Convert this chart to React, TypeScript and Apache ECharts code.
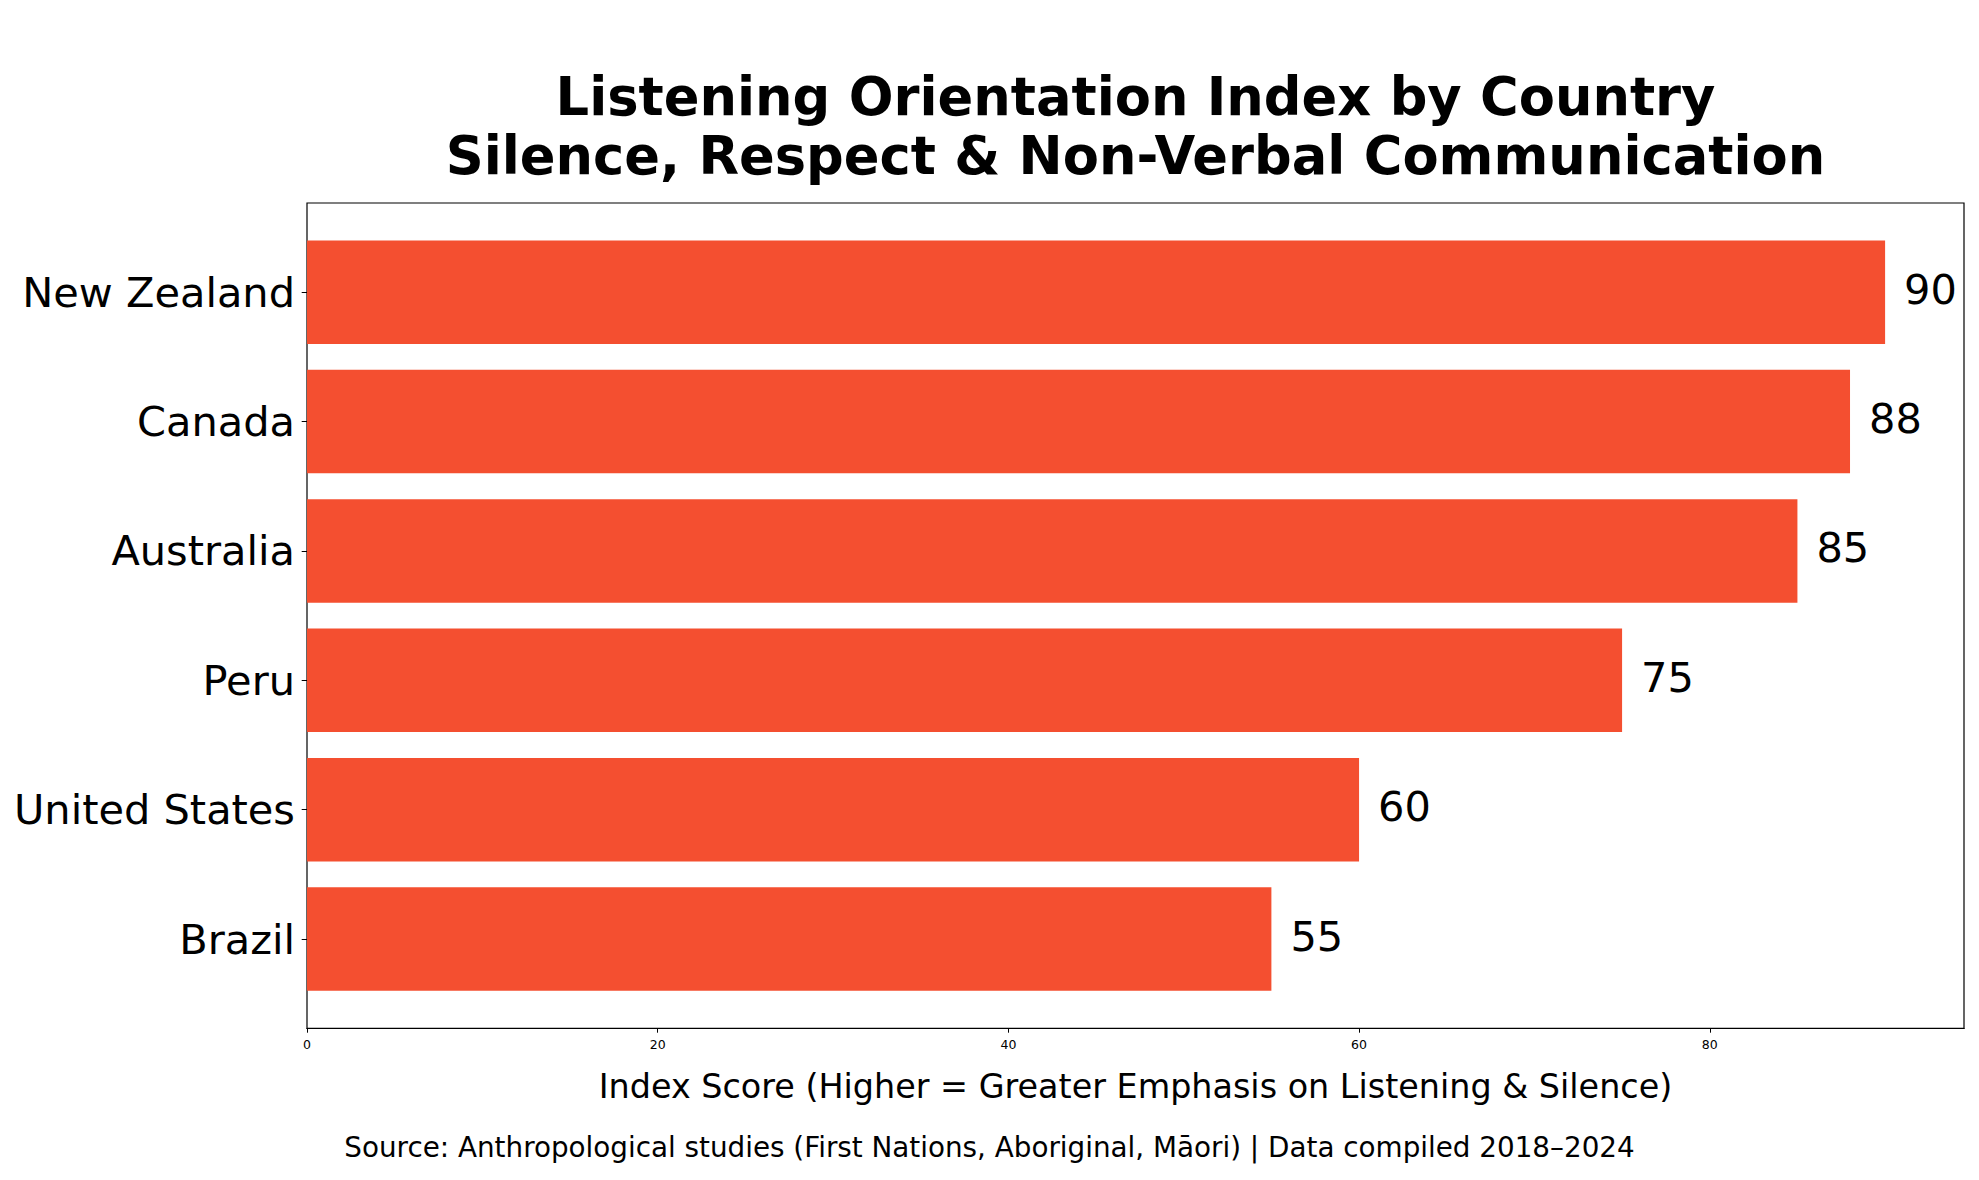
import React, { useEffect, useRef } from "react";
import * as echarts from "echarts";

const categories = ["New Zealand", "Canada", "Australia", "Peru", "United States", "Brazil"];
const values = [90, 88, 85, 75, 60, 55];
const xTickValues = [0, 20, 40, 60, 80];
const xMin = 0;
const xMax = 94.5;

const titleLine1 = "Listening Orientation Index by Country";
const titleLine2 = "Silence, Respect & Non-Verbal Communication";
const xAxisTitle = "Index Score (Higher = Greater Emphasis on Listening & Silence)";
const sourceText = "Source: Anthropological studies (First Nations, Aboriginal, Māori) | Data compiled 2018–2024";

const FONT = '"DejaVu Sans", "Noto Sans", sans-serif';
const BAR_COLOR = "#F44F30";

export default function App() {
  const ref = useRef<HTMLDivElement>(null);

  useEffect(() => {
    if (!ref.current) return;
    const chart = echarts.init(ref.current, null, { renderer: "svg" });
    const W = 1979;
    const H = 1180;
    const axLeft = 307;
    const axRight = 1964;
    const axTop = 203;
    const axBottom = 1028.3;
    const pxPerCat = (axBottom - axTop) / 6.38;
    const pad = 0.19 * pxPerCat;
    const cx = (axLeft + axRight) / 2;

    chart.setOption({
      animation: false,
      backgroundColor: "#ffffff",
      textStyle: { fontFamily: FONT },
      grid: [
        {
          left: axLeft,
          right: W - axRight,
          top: axTop + pad,
          bottom: H - (axBottom - pad),
          show: false,
          containLabel: false,
          outerBoundsMode: "none",
        },
        {
          left: axLeft,
          right: W - axRight,
          top: axTop,
          bottom: H - axBottom,
          show: true,
          borderColor: "#000",
          borderWidth: 1.2,
          backgroundColor: "transparent",
          containLabel: false,
          outerBoundsMode: "none",
        },
      ],
      xAxis: [
        { gridIndex: 0, type: "value", min: xMin, max: xMax, show: false },
        {
          gridIndex: 1,
          type: "value",
          min: xMin,
          max: xMax,
          axisLine: { show: true, lineStyle: { color: "#000", width: 1.2 } },
          axisTick: {
            show: true,
            customValues: xTickValues,
            length: 4.4,
            lineStyle: { color: "#000", width: 1 },
          },
          axisLabel: {
            show: true,
            customValues: xTickValues,
            fontSize: 12.5,
            lineHeight: 12.5,
            color: "#000",
            fontFamily: FONT,
            margin: 10,
          },
          splitLine: { show: false },
          name: xAxisTitle,
          nameLocation: "middle",
          nameGap: 42,
          nameTextStyle: { fontSize: 33.4, lineHeight: 33, color: "#000", fontFamily: FONT },
        },
      ],
      yAxis: [
        {
          gridIndex: 0,
          type: "category",
          data: categories,
          inverse: true,
          axisLine: { show: false },
          axisTick: {
            show: true,
            alignWithLabel: true,
            length: 5.3,
            lineStyle: { color: "#000", width: 1 },
          },
          axisLabel: {
            fontSize: 41.5,
            color: "#000",
            fontFamily: FONT,
            margin: 12,
          },
          splitLine: { show: false },
        },
        { gridIndex: 1, type: "value", min: 0, max: 1, show: false },
      ],
      series: [
        {
          type: "bar",
          xAxisIndex: 0,
          yAxisIndex: 0,
          data: values,
          barWidth: "80%",
          itemStyle: { color: BAR_COLOR },
          label: {
            show: true,
            position: "right",
            distance: 19,
            offset: [0, -3],
            fontSize: 41.5,
            color: "#000",
            fontFamily: FONT,
          },
        },
      ],
      graphic: [
        {
          type: "text",
          x: cx,
          y: 96.3,
          style: {
            text: titleLine1,
            fill: "#000",
            font: `bold 52.7px ${FONT}`,
            align: "center",
            verticalAlign: "middle",
            textAlign: "center",
            textVerticalAlign: "middle",
          },
        },
        {
          type: "text",
          x: cx,
          y: 155.5,
          style: {
            text: titleLine2,
            fill: "#000",
            font: `bold 52.7px ${FONT}`,
            align: "center",
            verticalAlign: "middle",
            textAlign: "center",
            textVerticalAlign: "middle",
          },
        },
        {
          type: "text",
          x: W / 2,
          y: 1147,
          style: {
            text: sourceText,
            fill: "#000",
            font: `27.8px ${FONT}`,
            align: "center",
            verticalAlign: "middle",
            textAlign: "center",
            textVerticalAlign: "middle",
          },
        },
      ],
    });

    return () => chart.dispose();
  }, []);

  return (
    <div
      ref={ref}
      style={{ position: "fixed", left: 0, top: 0, width: 1979, height: 1180, background: "#fff" }}
    />
  );
}
